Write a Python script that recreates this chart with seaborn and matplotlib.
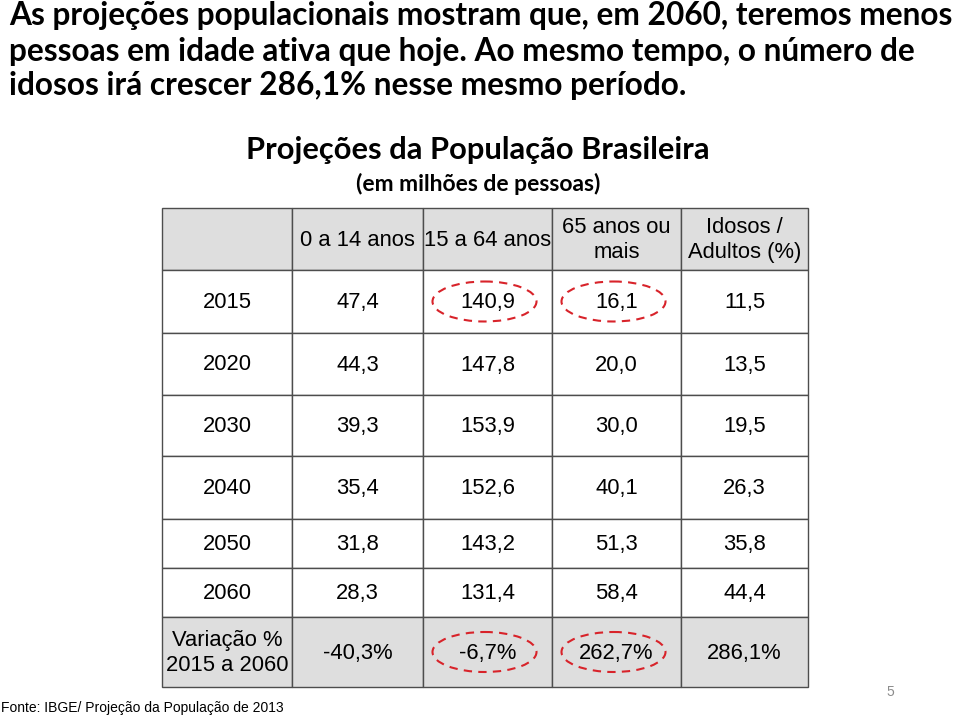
import matplotlib
matplotlib.use('Agg')
import matplotlib.pyplot as plt
from matplotlib.patches import Rectangle, Ellipse
import seaborn as sns

# ---- data ----
intro_lines = ['As projeções populacionais mostram que, em 2060, teremos menos',
               'pessoas em idade ativa que hoje. Ao mesmo tempo, o número de',
               'idosos irá crescer 286,1% nesse mesmo período.']
title = 'Projeções da População Brasileira'
subtitle = '(em milhões de pessoas)'
col_labels = ['0 a 14 anos', '15 a 64 anos', '65 anos ou\nmais', 'Idosos /\nAdultos (%)']
years = ['2015', '2020', '2030', '2040', '2050', '2060']
pop_0_14 = [47.4, 44.3, 39.3, 35.4, 31.8, 28.3]
pop_15_64 = [140.9, 147.8, 153.9, 152.6, 143.2, 131.4]
pop_65 = [16.1, 20.0, 30.0, 40.1, 51.3, 58.4]
idosos_adultos = [11.5, 13.5, 19.5, 26.3, 35.8, 44.4]
variation_label = 'Variação %\n2015 a 2060'
variation = [-40.3, -6.7, 262.7, 286.1]
highlight = [(0, 1), (0, 2), (6, 1), (6, 2)]  # (row, data column) circled in red
source = 'Fonte: IBGE/ Projeção da População de 2013'
page = '5'

def br(v, pct=False):
    s = f'{v:.1f}'.replace('.', ',')
    return s + '%' if pct else s

# ---- layout (pixels) ----
col_edges = [162, 292, 423, 552, 681, 808]
row_edges = [208, 270, 333, 395, 456, 519, 568, 617, 687]

sns.set_theme(style='white')
plt.rcParams['font.family'] = ['Liberation Sans', 'DejaVu Sans']
plt.rcParams['text.color'] = 'black'

fig = plt.figure(figsize=(9.6, 7.18), dpi=100)
ax = fig.add_axes([0, 0, 1, 1])
ax.set_xlim(0, 960)
ax.set_ylim(718, 0)
ax.axis('off')

# table body
rows = [[''] + col_labels]
for i, y in enumerate(years):
    rows.append([y, br(pop_0_14[i]), br(pop_15_64[i]), br(pop_65[i]), br(idosos_adultos[i])])
rows.append([variation_label] + [br(v, pct=True) for v in variation])

gray = '#dedede'
n_rows = len(rows)
for r in range(n_rows):
    y0, y1 = row_edges[r], row_edges[r + 1]
    fill = gray if r in (0, n_rows - 1) else 'white'
    for c in range(len(col_edges) - 1):
        x0, x1 = col_edges[c], col_edges[c + 1]
        ax.add_patch(Rectangle((x0, y0), x1 - x0, y1 - y0, facecolor=fill,
                               edgecolor='#4d4d4d', lw=1.0))
        ax.text((x0 + x1) / 2, (y0 + y1) / 2 + 1, rows[r][c], ha='center', va='center',
                fontsize=15.8, color='black', linespacing=1.25)

# dashed red circles
for r, c in highlight:
    cx = (col_edges[c + 1] + col_edges[c + 2]) / 2 - 3
    cy = (row_edges[r + 1] + row_edges[r + 2]) / 2
    ax.add_patch(Ellipse((cx, cy), 104, 40, fill=False, edgecolor='#d8232a',
                         lw=1.5, linestyle=(0, (4, 3))))

# texts
lato = ['Lato', 'DejaVu Sans']
for i, line in enumerate(intro_lines):
    ax.text(9, 16 + 35 * i, line, ha='left', va='center', fontsize=22.8,
            fontweight='bold', family=lato, color='black')
ax.text(478, 150, title, ha='center', va='center', fontsize=22.2,
        fontweight='bold', family=lato, color='black')
ax.text(478, 184, subtitle, ha='center', va='center', fontsize=16.5,
        fontweight='bold', family=lato, color='black')
ax.text(1, 708, source, ha='left', va='center', fontsize=10, color='black')
ax.text(890, 692, page, ha='center', va='center', fontsize=10, color='#8c8c8c')

fig.savefig('out.png', dpi=100)
